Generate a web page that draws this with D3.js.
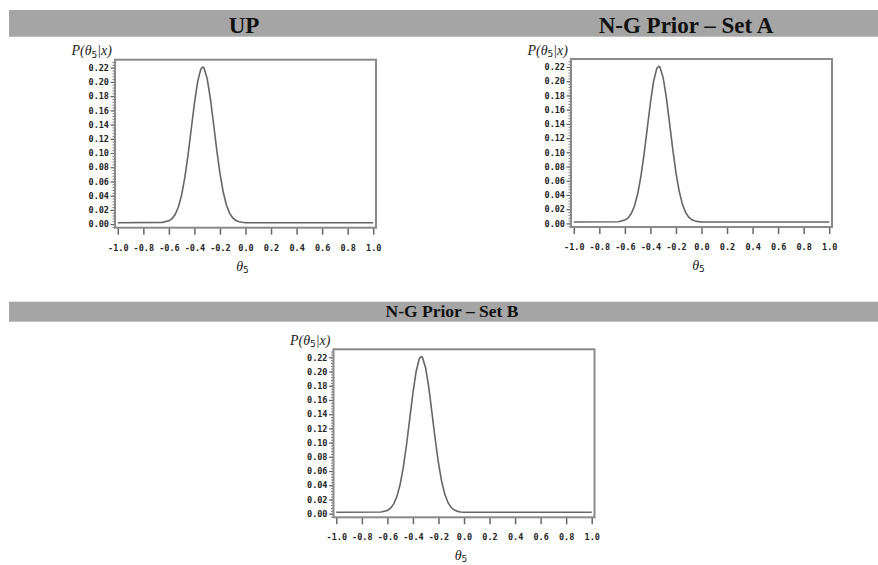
<!DOCTYPE html>
<html>
<head>
<meta charset="utf-8">
<style>
  body {
    margin: 0;
    background-color: #ffffff;
  }

  .title {
    font-family: 'Liberation Serif', 'Times New Roman', serif;
    font-weight: bold;
    fill: #111;
  }

  .tick text {
    font-family: 'DejaVu Sans Mono', monospace;
    font-weight: bold;
    font-size: 8.5px;
    fill: #222;
  }

  .math {
    font-family: 'Liberation Serif', 'Times New Roman', serif;
    font-style: italic;
    font-size: 14px;
    fill: #222;
  }
</style>
  <script src="https://d3js.org/d3.v7.min.js"></script>
</head>
<body>
<script>
  // theta_5 grid
  const theta = [-1.00, -0.65, -0.60, -0.575, -0.55, -0.525, -0.50, -0.475, -0.45, -0.425,
    -0.40, -0.375, -0.35, -0.335, -0.325, -0.30, -0.275, -0.25, -0.225, -0.20,
    -0.175, -0.15, -0.125, -0.10, -0.075, -0.05, -0.025, 0.00, 1.00];

  // posterior P(theta_5 | x), one array per panel
  const upDensity = [0.002, 0.0024, 0.0046, 0.0078, 0.0138, 0.0244, 0.0413, 0.0656, 0.097, 0.1334,
    0.1697, 0.200, 0.218, 0.221, 0.2196, 0.2047, 0.1765, 0.1408, 0.104, 0.0713,
    0.0455, 0.0272, 0.0155, 0.0087, 0.0051, 0.0033, 0.0025, 0.002, 0.002];
  const setADensity = [0.002, 0.0024, 0.0046, 0.0078, 0.0138, 0.0244, 0.0413, 0.0656, 0.097, 0.1334,
    0.1697, 0.200, 0.218, 0.221, 0.2196, 0.2047, 0.1765, 0.1408, 0.104, 0.0713,
    0.0455, 0.0272, 0.0155, 0.0087, 0.0051, 0.0033, 0.0025, 0.002, 0.002];
  const setBDensity = [0.002, 0.0024, 0.0046, 0.0078, 0.0138, 0.0244, 0.0413, 0.0656, 0.097, 0.1334,
    0.1697, 0.200, 0.218, 0.221, 0.2196, 0.2047, 0.1765, 0.1408, 0.104, 0.0713,
    0.0455, 0.0272, 0.0155, 0.0087, 0.0051, 0.0033, 0.0025, 0.002, 0.002];

  const xTicks = [-1.0, -0.8, -0.6, -0.4, -0.2, 0.0, 0.2, 0.4, 0.6, 0.8, 1.0];
  const yTicks = [0.00, 0.02, 0.04, 0.06, 0.08, 0.10, 0.12, 0.14, 0.16, 0.18, 0.20, 0.22];
  const yMinorStep = 0.004;

  const panelTitles = ['UP', 'N-G Prior \u2013 Set A', 'N-G Prior \u2013 Set B'];

  const svg = d3.select('body')
    .append('svg')
    .attr('width', 878)
    .attr('height', 565);

  // header bars
  const bars = [
    { x: 9, y: 10, w: 869, h: 26.7 },
    { x: 9, y: 301.7, w: 869, h: 20 },
  ];
  bars.forEach((b) => {
    svg.append('rect')
      .attr('x', b.x).attr('y', b.y)
      .attr('width', b.w).attr('height', b.h)
      .attr('fill', '#a5a5a5');
  });

  const titles = [
    { cx: 244, y: 32.6, size: 23 },
    { cx: 686, y: 32.6, size: 23 },
    { cx: 452, y: 317, size: 17.5 },
  ];

  const frameW = 261;
  const frameH = 168;
  const inset = 2.8;

  const panels = [
    { left: 115, top: 59.7, values: upDensity },
    { left: 571, top: 59, values: setADensity },
    { left: 333.5, top: 349.3, values: setBDensity },
  ];

  // SAS prints a plain hyphen for negatives
  const fmt = (d) => d3.format('.1f')(d).replace('\u2212', '-');

  panels.forEach((p, i) => {
    svg.append('text')
      .attr('class', 'title')
      .attr('x', titles[i].cx)
      .attr('y', titles[i].y)
      .attr('text-anchor', 'middle')
      .attr('font-size', titles[i].size)
      .text(panelTitles[i]);

    const g = svg.append('g')
      .attr('transform', `translate(${p.left},${p.top})`);

    const x = d3.scaleLinear()
      .domain([-1, 1])
      .range([inset, frameW - inset]);

    const y = d3.scaleLinear()
      .domain([0, 0.22])
      .range([164.4, 8]);

    const yDomain = [y.invert(frameH), y.invert(0)];

    // minor y ticks
    const minor = d3.range(Math.ceil(yDomain[0] / yMinorStep), Math.floor(yDomain[1] / yMinorStep) + 1)
      .map((k) => k * yMinorStep);

    g.append('g')
      .call(d3.axisLeft(y).tickValues(minor).tickSize(2.5).tickFormat(''))
      .call((a) => a.select('.domain').remove())
      .call((a) => a.selectAll('line').attr('stroke', '#777'));

    g.append('g')
      .call(d3.axisLeft(y).tickValues(yTicks).tickSize(4.5).tickPadding(1.5).tickFormat(d3.format('.2f')))
      .call((a) => a.select('.domain').remove())
      .call((a) => a.selectAll('line').attr('stroke', '#666').attr('stroke-width', 1.2));

    g.append('g')
      .attr('transform', `translate(0,${frameH})`)
      .call(d3.axisBottom(x).tickValues(xTicks).tickSize(7).tickPadding(10).tickFormat(fmt))
      .call((a) => a.select('.domain').remove())
      .call((a) => a.selectAll('line').attr('stroke', '#666').attr('stroke-width', 1.5));

    // frame
    g.append('rect')
      .attr('width', frameW)
      .attr('height', frameH)
      .attr('fill', 'none')
      .attr('stroke', '#8a8a8a')
      .attr('stroke-width', 2);

    const line = d3.line()
      .x((d, j) => x(theta[j]))
      .y((d) => y(d));

    g.append('path')
      .datum(p.values)
      .attr('d', line)
      .attr('fill', 'none')
      .attr('stroke', '#666')
      .attr('stroke-width', 1.6);

    // y label P(theta_5|x)
    const yl = g.append('text')
      .attr('class', 'math')
      .attr('x', -3)
      .attr('y', -4.5)
      .attr('text-anchor', 'end');
    yl.append('tspan').text('P(\u03b8');
    yl.append('tspan')
      .attr('font-style', 'normal')
      .attr('font-family', 'DejaVu Sans, sans-serif')
      .attr('font-size', 9)
      .attr('dy', 2.5)
      .text('5');
    yl.append('tspan').attr('dy', -2.5).text('|x)');

    // x label theta_5
    const xl = g.append('text')
      .attr('class', 'math')
      .attr('x', x(0) - 3)
      .attr('y', 211)
      .attr('text-anchor', 'middle');
    xl.append('tspan').text('\u03b8');
    xl.append('tspan')
      .attr('font-style', 'normal')
      .attr('font-family', 'DejaVu Sans, sans-serif')
      .attr('font-size', 9)
      .attr('dy', 2)
      .text('5');
  });
</script>
</body>
</html>
